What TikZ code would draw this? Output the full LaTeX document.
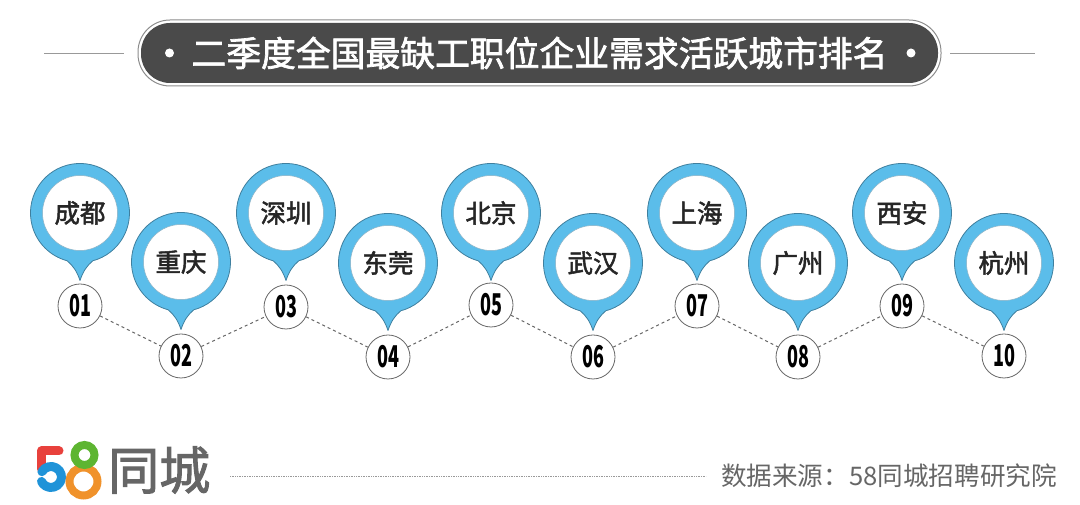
\documentclass[tikz,border=0pt]{standalone}
\usepackage{fontspec}
\setmainfont{Noto Sans CJK SC}
\newfontfamily\midfont[FakeBold=2]{Noto Sans CJK SC}
\usetikzlibrary{positioning}
\definecolor{pinblue}{HTML}{5BBDEA}
\definecolor{pinedge}{HTML}{3F7F9E}
\definecolor{titledark}{HTML}{4A4A4A}
\definecolor{textgray}{HTML}{666666}
\definecolor{logored}{HTML}{E8413C}
\definecolor{logoblue}{HTML}{1F93D8}
\definecolor{logogreen}{HTML}{5DB531}
\definecolor{logoorange}{HTML}{F0922B}
\tikzset{
  pinbody/.style={fill=pinblue,draw=pinedge,line width=.8pt,line join=round},
  cityname/.style={circle,fill=white,draw=pinedge!60,line width=.5pt,minimum size=75pt,inner sep=0pt,font=\fontsize{25.5}{25}\midfont,text=black!85},
  numbox/.style={circle,fill=white,draw=black!60,line width=.8pt,minimum size=44pt,inner sep=0pt,font=\fontsize{30}{30}\selectfont\bfseries,text=black},
  link/.style={dash pattern=on 3pt off 3pt,draw=black!60,line width=1pt},
  rule/.style={draw=black!40,line width=.8pt},
  logostroke/.style={line width=9pt,line cap=round,line join=round},
  logoring/.style={line width=8pt}
}
\begin{document}
\begin{tikzpicture}[x=1pt,y=1pt]
\useasboundingbox (0,0) rectangle (1080,505);
\node[rounded corners=32pt,draw=black!45,line width=1pt,minimum width=803pt,minimum height=66pt,inner sep=0pt] (titleframe) at (539.5,452) {};
\node[rounded corners=29pt,fill=titledark,minimum width=797pt,minimum height=60pt,inner sep=0pt,text=white,font=\fontsize{34.8}{35}\midfont] (title) at (539.5,452) {二季度全国最缺工职位企业需求活跃城市排名};
\fill[white] (169.5,452) circle (4.5);
\fill[white] (911,452) circle (4.5);
\coordinate (ruleaL) at (44,452);
\coordinate (ruleaR) at (124,452);
\coordinate (rulebL) at (950,452);
\coordinate (rulebR) at (1035,452);
\draw[rule] (ruleaL) -- (ruleaR);
\draw[rule] (rulebL) -- (rulebR);
\foreach \i/\x/\y/\ny/\city/\num in {1/80/292/199/成都/01,2/181/243/149/重庆/02,3/286/292/198/深圳/03,4/388/242/148/东莞/04,5/491/292/200/北京/05,6/593/242/148/武汉/06,7/697/292/199/上海/07,8/798/242/148/广州/08,9/902/292/199/西安/09,10/1004/242/149/杭州/10}
{
\coordinate (tip\i) at ({\x},{\y-67.5});
\draw[pinbody] (tip\i) .. controls +(3,9) and +(-6,-5) .. ++(12.8,19.7) arc[start angle=-75,end angle=255,radius=49.5pt] .. controls +(6,-5) and +(-3,9) .. (tip\i) -- cycle;
\node[cityname] (city\i) at (\x,\y) {\city};
\node[numbox] (num\i) at (\x,\ny) {\scalebox{.6}[1]{\num}};
}
\foreach \a/\b in {1/2,2/3,3/4,4/5,5/6,6/7,7/8,8/9,9/10}
\draw[link] (num\a) -- (num\b);
\draw[logostroke,logored] (59,54) -- (41.5,54) -- (41.5,36);
\draw[logostroke,logoblue] (51,28) ++(150:10.5) arc[start angle=150,end angle=-155,radius=10.5pt];
\draw[logoring,logoorange] (83.5,23.5) circle (14pt);
\draw[logoring,logogreen] (84.5,50) circle (10pt);
\node[text=textgray,font=\fontsize{51}{51}\midfont,anchor=west,inner sep=0pt] (logotext) at (108,35) {同城};
\node[text=textgray,font=\fontsize{25.6}{26}\selectfont,anchor=east,inner sep=0pt] (source) at (1057,29) {数据来源：58同城招聘研究院};
\coordinate (dotstart) at (230,29);
\coordinate (dotend) at (706,29);
\draw[densely dotted,draw=black!40,line width=.7pt] (dotstart) -- (dotend);
\end{tikzpicture}
\end{document}
